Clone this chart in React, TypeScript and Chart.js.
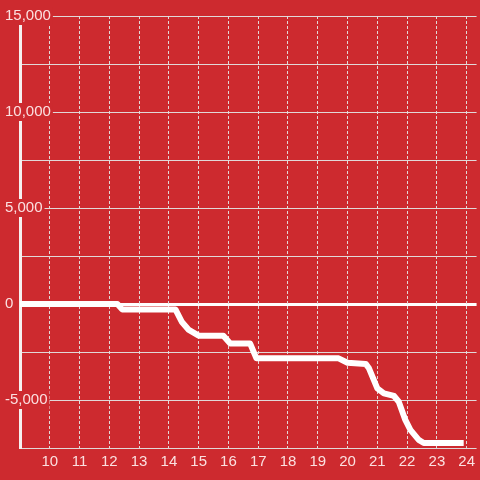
import { useEffect, useRef } from 'react';
import { Chart, registerables } from 'chart.js';

Chart.register(...registerables);

// Hours of day (x) and running value (y)
const hours = [9.0, 12.27, 12.43, 14.22, 14.43, 14.67, 15.0, 15.83, 16.06, 16.73, 16.94, 19.7, 20.0, 20.61, 20.72, 21.0, 21.22, 21.56, 21.72, 21.94, 22.11, 22.39, 22.56, 23.8];
const values = [0, 0, -280, -280, -920, -1350, -1650, -1650, -2060, -2060, -2830, -2830, -3060, -3120, -3350, -4390, -4650, -4790, -5090, -6040, -6560, -7080, -7240, -7240];
const xTickValues = [10, 11, 12, 13, 14, 15, 16, 17, 18, 19, 20, 21, 22, 23, 24];
const yLabelStep = 5000;

const BG = '#cd2a2f';
const GRID = 'rgba(225,225,225,0.95)';
const LABEL = 'rgba(255,240,240,0.92)';
const FONT = "'Liberation Sans', Arial, sans-serif";

export default function App() {
  const ref = useRef<HTMLCanvasElement | null>(null);

  useEffect(() => {
    if (!ref.current) return;
    const chart = new Chart(ref.current, {
      type: 'line',
      data: {
        datasets: [
          {
            data: hours.map((h, i) => ({ x: h, y: values[i] })),
            borderColor: '#ffffff',
            borderWidth: 6,
            pointRadius: 0,
            tension: 0,
            borderJoinStyle: 'round',
            borderCapStyle: 'square',
            fill: false,
          },
        ],
      },
      options: {
        animation: false,
        responsive: true,
        maintainAspectRatio: false,
        layout: { padding: { top: 16, left: 0, right: 0, bottom: 0 } },
        plugins: { legend: { display: false }, tooltip: { enabled: false } },
        scales: {
          y: {
            type: 'linear',
            position: 'left',
            min: -7500,
            max: 15000,
            z: -1,
            afterFit: (s: any) => {
              s.width = 20;
            },
            grid: {
              drawTicks: false,
              color: (c: any) => (c.tick && c.tick.value === 0 ? '#ffffff' : GRID),
              lineWidth: (c: any) => (c.tick && c.tick.value === 0 ? 3 : 1),
            },
            border: { display: true, color: '#f6f0f0', width: 3 },
            ticks: {
              stepSize: 2500,
              mirror: true,
              padding: -15,
              color: LABEL,
              font: { family: FONT, size: 15 },
              callback: (v: any) => (Number(v) % yLabelStep === 0 ? Number(v).toLocaleString('en-US') : ''),
              showLabelBackdrop: (c: any) => !!(c.tick && c.tick.value % yLabelStep === 0),
              backdropColor: BG,
              backdropPadding: { x: 2, y: 0 },
            } as any,
          },
          x: {
            type: 'linear',
            min: 9,
            max: 24.333,
            afterFit: (s: any) => {
              s.height = 32;
            },
            afterBuildTicks: (s: any) => {
              s.ticks = xTickValues.map((v) => ({ value: v }));
            },
            grid: {
              drawTicks: false,
              color: GRID,
              lineWidth: 1,
            },
            border: { display: false, dash: [3, 2] },
            ticks: {
              padding: 5,
              color: LABEL,
              font: { family: FONT, size: 15 },
              autoSkip: false,
              maxRotation: 0,
              callback: (v: any) => String(v),
            },
          },
        },
      },
    });
    return () => chart.destroy();
  }, []);

  return (
    <div style={{ position: 'fixed', left: 0, top: 0, width: 480, height: 480, background: BG }}>
      <canvas ref={ref} />
    </div>
  );
}
